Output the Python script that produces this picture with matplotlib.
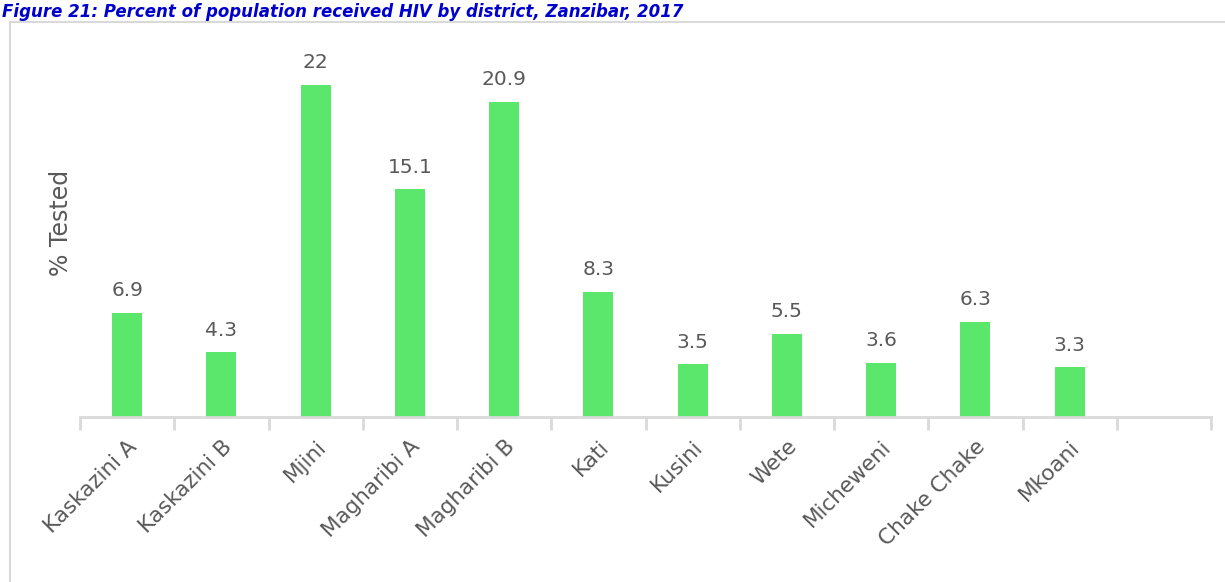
import matplotlib as mpl
import matplotlib.pyplot as plt
from matplotlib.patches import Rectangle
from matplotlib.ticker import FixedLocator

mpl.rc('font', family='DejaVu Sans')

districts = ['Kaskazini A', 'Kaskazini B', 'Mjini', 'Magharibi A', 'Magharibi B',
             'Kati', 'Kusini', 'Wete', 'Micheweni', 'Chake Chake', 'Mkoani']
pct_tested = [6.9, 4.3, 22, 15.1, 20.9, 8.3, 3.5, 5.5, 3.6, 6.3, 3.3]
n_slots = 12

W, H = 1225, 582
fig = plt.figure(figsize=(W / 100, H / 100), dpi=100)
ax = fig.add_axes([80 / W, (H - 417) / H, (1211 - 80) / W, (417 - 20) / H])

grey = '#595959'
light = '#d9d9d9'

x = list(range(len(districts)))
ax.bar(x, pct_tested, width=0.32, color='#5BE76B', zorder=2)
for xi, v in zip(x, pct_tested):
    ax.annotate(f'{v:g}', (xi, v), xytext=(0, 9), textcoords='offset points',
                ha='center', va='bottom', fontsize=14.5, color=grey)

ax.set_xlim(-0.5, n_slots - 0.5)
ax.set_ylim(0, 26.3)

for s in ['top', 'right', 'left']:
    ax.spines[s].set_visible(False)
ax.spines['bottom'].set_color(light)
ax.spines['bottom'].set_linewidth(2)
ax.set_yticks([])

ax.set_xticks(x)
ax.set_xticklabels(districts, rotation=45, ha='right', rotation_mode='anchor',
                   fontsize=15.5, color=grey)
ax.tick_params(axis='x', which='major', length=0, pad=14)
ax.xaxis.set_minor_locator(FixedLocator([i - 0.5 for i in range(n_slots + 1)]))
ax.tick_params(axis='x', which='minor', length=9, width=2, color=light)

ax.set_ylabel('% Tested', fontsize=17, color=grey)
ax.yaxis.set_label_coords(-0.006, 0.49)

# chart frame, open past the right and bottom edges
fig.patches.append(Rectangle((10 / W, -0.05), 1.0, (H - 22) / H + 0.05,
                             transform=fig.transFigure, fill=False,
                             edgecolor=light, linewidth=1.5))

fig.text(2 / W, 1 - 17 / H,
         'Figure 21: Percent of population received HIV by district, Zanzibar, 2017',
         ha='left', va='baseline', fontsize=12, fontweight='bold', fontstyle='italic',
         color='#0000CC')

fig.savefig('out.png', dpi=100)
